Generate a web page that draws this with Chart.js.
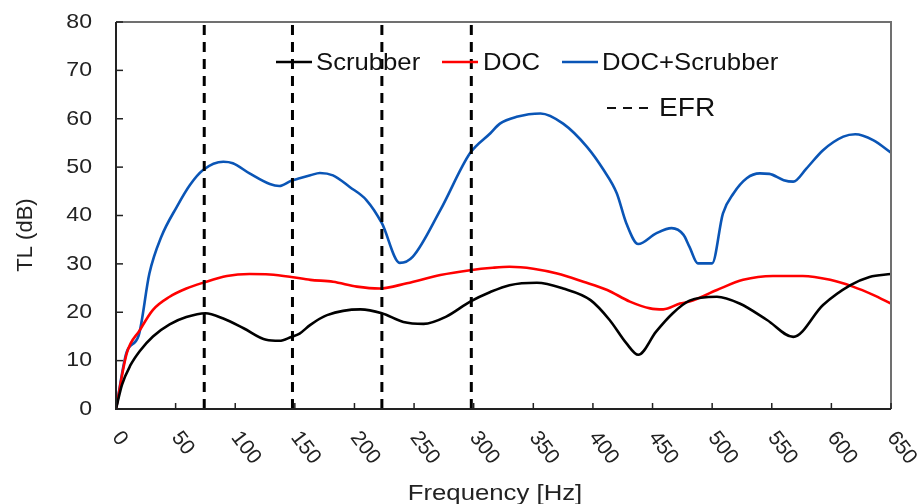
<!DOCTYPE html>
<html>
<head>
<meta charset="utf-8">
<script src="https://cdn.jsdelivr.net/npm/chart.js@4.4.1/dist/chart.umd.min.js"></script>
<style>
  html, body { margin: 0; padding: 0; background: #fff; }
  #wrap { width: 920px; height: 504px; }
</style>
</head>
<body>
<div id="wrap"><canvas id="tlChart" width="920" height="504"></canvas></div>
<script>
// Scrubber
const scrubberHz = [0, 5, 12, 20, 31, 45, 59, 75, 90, 107, 126, 137, 147, 154, 163, 177, 205, 223, 241, 258, 277, 297, 314, 330, 353, 375, 398, 414, 428, 438, 453, 467, 481, 504, 523, 546, 568, 593, 616, 632, 650];
const scrubberTL = [0, 5, 9, 12, 15, 17.5, 19, 19.8, 18.7, 16.7, 14.3, 14.1, 14.9, 15.6, 17.4, 19.4, 20.6, 19.8, 18.0, 17.6, 19.1, 22.2, 24.2, 25.6, 26.1, 24.9, 22.5, 18.4, 13.6, 11.2, 16.0, 19.8, 22.4, 23.2, 21.8, 18.4, 14.9, 21.5, 25.6, 27.3, 27.9];

// DOC
const docHz = [0, 9, 20, 31, 45, 59, 73, 93, 112, 129, 147, 163, 182, 202, 221, 244, 272, 297, 316, 330, 350, 370, 392, 412, 431, 448, 459, 473, 481, 504, 526, 551, 576, 599, 618, 635, 650];
const docTL = [0, 11.5, 16.3, 20.5, 23.2, 24.9, 26.1, 27.5, 27.9, 27.8, 27.3, 26.7, 26.3, 25.3, 24.9, 26.0, 27.7, 28.7, 29.2, 29.4, 29.0, 28.0, 26.3, 24.6, 22.2, 20.8, 20.6, 21.8, 22.2, 24.6, 26.7, 27.5, 27.5, 26.7, 25.3, 23.6, 21.8];

// DOC+Scrubber
const bothHz = [0, 9, 19, 28, 38, 51, 62, 73, 90, 98, 112, 129, 137, 147, 154, 163, 171, 182, 196, 210, 223, 238, 249, 272, 297, 314, 322, 336, 356, 375, 395, 409, 420, 428, 438, 453, 466, 476, 481, 488, 500, 509, 518, 529, 540, 548, 560, 568, 579, 593, 610, 620, 635, 650];
const bothTL = [0, 11.8, 15.2, 28, 35.6, 41.8, 46.3, 49.4, 51.1, 50.8, 48.7, 46.5, 46.1, 47.2, 47.7, 48.3, 48.8, 48.3, 45.9, 43.2, 38.4, 30.2, 31.5, 41.1, 52.9, 57, 59, 60.4, 61.1, 59, 54.2, 49.4, 44.6, 38.4, 34.1, 36.3, 37.4, 36, 33.5, 30.1, 30.1, 40.4, 44.6, 47.7, 48.7, 48.6, 47.3, 47, 49.7, 53.5, 56.3, 56.8, 55.6, 53];

// EFR 虚线
const efrHz = [74, 148, 223, 298];
const efrSpan = [0, 80];

// 坐标刻度
const xTickLabels = ['0', '50', '100', '150', '200', '250', '300', '350', '400', '450', '500', '550', '600', '650'];
const yTickLabels = ['0', '10', '20', '30', '40', '50', '60', '70', '80'];

const FONT = '"Liberation Sans", Arial, sans-serif';

function pts(xs, ys) {
    return xs.map((x, i) => ({ x: x, y: ys[i] }));
}

// 原图文字略微横向拉伸
function wideText(ctx, text, x, y, sx, align) {
    ctx.save();
    ctx.translate(x, y);
    ctx.scale(sx, 1);
    ctx.textAlign = align;
    ctx.fillText(text, 0, 0);
    ctx.restore();
}

const curves = [
    { label: 'Scrubber', data: pts(scrubberHz, scrubberTL), borderColor: '#000000' },
    { label: 'DOC', data: pts(docHz, docTL), borderColor: '#ff0000' },
    { label: 'DOC+Scrubber', data: pts(bothHz, bothTL), borderColor: '#0a55b6' }
].map(d => Object.assign(d, {
    borderWidth: 2.6,
    pointRadius: 0,
    fill: false,
    cubicInterpolationMode: 'monotone',
    order: 2
}));

const efrLines = efrHz.map(f => ({
    label: 'EFR',
    data: efrSpan.map(v => ({ x: f, y: v })),
    borderColor: '#000000',
    borderWidth: 3,
    borderDash: [10, 7],
    pointRadius: 0,
    fill: false,
    order: 1
}));

// 坐标框、刻度、标题和图例
const framePlugin = {
    id: 'frame',
    afterDatasetsDraw(chart) {
        const { ctx, chartArea: a, scales: { x, y } } = chart;
        ctx.save();

        ctx.lineWidth = 2;
        ctx.strokeStyle = '#707070';
        ctx.beginPath();
        ctx.moveTo(a.left, a.top);
        ctx.lineTo(a.right, a.top);
        ctx.lineTo(a.right, a.bottom);
        ctx.stroke();
        ctx.strokeStyle = '#222';
        ctx.beginPath();
        ctx.moveTo(a.left, a.top);
        ctx.lineTo(a.left, a.bottom);
        ctx.lineTo(a.right, a.bottom);
        ctx.stroke();

        // y ticks + labels
        ctx.lineWidth = 1.5;
        ctx.fillStyle = '#222';
        ctx.font = '21px ' + FONT;
        ctx.textBaseline = 'middle';
        yTickLabels.forEach(t => {
            const py = y.getPixelForValue(Number(t));
            ctx.beginPath();
            ctx.moveTo(a.left, py);
            ctx.lineTo(a.left + 7, py);
            ctx.stroke();
            wideText(ctx, t, a.left - 24, py, 1.1, 'right');
        });

        // x ticks + rotated labels
        xTickLabels.forEach(t => {
            const px = x.getPixelForValue(Number(t));
            ctx.beginPath();
            ctx.moveTo(px, a.bottom);
            ctx.lineTo(px, a.bottom - 6);
            ctx.stroke();
            ctx.save();
            ctx.translate(px, a.bottom + 25);
            ctx.rotate(0.92);
            ctx.textAlign = 'left';
            ctx.fillText(t, 0, 0);
            ctx.restore();
        });

        // axis titles
        ctx.textBaseline = 'alphabetic';
        ctx.font = '22px ' + FONT;
        wideText(ctx, 'Frequency [Hz]', 495, 500, 1.17, 'center');
        ctx.save();
        ctx.translate(32, 235);
        ctx.rotate(-Math.PI / 2);
        ctx.textAlign = 'center';
        ctx.font = '22px ' + FONT;
        ctx.fillText('TL (dB)', 0, 0);
        ctx.restore();

        // legend
        ctx.textBaseline = 'middle';
        ctx.font = '24px ' + FONT;
        const items = [[276, 316], [442, 483], [562, 602]];
        curves.forEach((d, i) => {
            const [lx, tx] = items[i];
            ctx.strokeStyle = d.borderColor;
            ctx.lineWidth = 2.6;
            ctx.beginPath();
            ctx.moveTo(lx, 62);
            ctx.lineTo(lx + 36, 62);
            ctx.stroke();
            ctx.fillStyle = '#111';
            wideText(ctx, d.label, tx, 63, 1.07, 'left');
        });
        ctx.strokeStyle = '#111';
        ctx.lineWidth = 2;
        ctx.setLineDash([9, 7]);
        ctx.beginPath();
        ctx.moveTo(607, 108);
        ctx.lineTo(648, 108);
        ctx.stroke();
        ctx.setLineDash([]);
        ctx.font = '26px ' + FONT;
        wideText(ctx, efrLines[0].label, 659, 109, 1.08, 'left');

        ctx.restore();
    }
};

document.addEventListener('DOMContentLoaded', function() {
    const tlCtx = document.getElementById('tlChart').getContext('2d');
    new Chart(tlCtx, {
        type: 'line',
        data: { datasets: curves.concat(efrLines) },
        options: {
            responsive: false,
            animation: false,
            layout: { padding: { left: 116, top: 22, right: 29, bottom: 95 } },
            plugins: {
                legend: { display: false },
                tooltip: { enabled: false }
            },
            scales: {
                x: { type: 'linear', min: 0, max: 650, display: false },
                y: { type: 'linear', min: 0, max: 80, display: false }
            }
        },
        plugins: [framePlugin]
    });
});
</script>
</body>
</html>
